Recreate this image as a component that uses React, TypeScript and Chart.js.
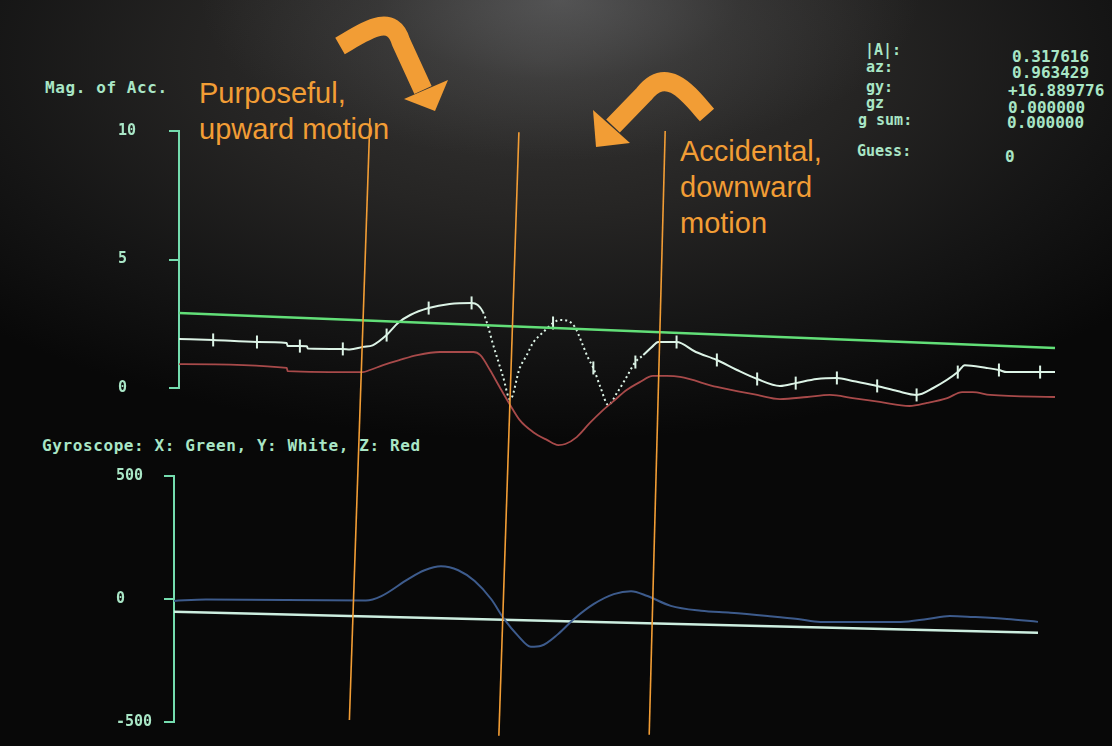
import React, { useEffect, useRef } from 'react';
import { Chart, registerables } from 'chart.js';

Chart.register(...registerables);

// ---------- data ----------
const TOP_Y_TICKS = [0, 5, 10];
const BOTTOM_Y_TICKS = [-500, 0, 500];

// Magnitude of acceleration panel (time 0..100)
const ACC_GREEN_T = [0, 100];
const ACC_GREEN_V = [2.92, 1.56];

const ACC_WHITE_T = [0, 3.9, 8.9, 12.3, 12.4, 13.8, 14.6, 14.7, 18.7, 19.5, 21, 22.1, 23.7, 25, 26.4, 28.5, 30.9, 33.4, 34.1, 34.7, 35.3, 35.8, 36.4, 37, 37.8, 38.9, 39.7, 40.4, 41.6, 42.7, 43.5, 44.4, 45.2, 46, 46.7, 47.3, 48.1, 49, 50, 50.9, 52.1, 53, 54, 54.7, 56.8, 59, 61.4, 63.7, 66, 68.6, 70.4, 72.8, 75.1, 76.9, 79.7, 82, 84.2, 86.1, 88.9, 89.7, 92.2, 93.6, 94.5, 98.3, 100];
const ACC_WHITE_V = [1.91, 1.87, 1.79, 1.75, 1.63, 1.63, 1.62, 1.54, 1.52, 1.5, 1.6, 1.66, 2.06, 2.53, 2.84, 3.11, 3.27, 3.31, 3.23, 2.96, 2.37, 1.75, 1.09, 0.43, -0.45, 0.78, 1.28, 1.75, 2.18, 2.53, 2.65, 2.61, 2.37, 1.75, 1.17, 0.78, 0.04, -0.66, -0.19, 0.31, 1.01, 1.28, 1.6, 1.79, 1.79, 1.4, 1.09, 0.7, 0.35, 0.08, 0.19, 0.35, 0.39, 0.27, 0.08, -0.12, -0.27, 0, 0.62, 0.89, 0.78, 0.7, 0.62, 0.62, 0.62];
const ACC_WHITE_TICKS = [3.9, 8.9, 13.8, 18.7, 23.7, 28.5, 33.4, 37.8, 42.7, 47.3, 52.1, 56.8, 61.4, 66, 70.4, 75.1, 79.7, 84.2, 88.9, 93.6, 98.3];
const ACC_WHITE_DOTTED = [34.7, 53];

const ACC_RED_T = [0, 12.3, 12.4, 21, 21.8, 23.3, 25.2, 27.2, 29.8, 33.6, 34.4, 35.5, 36.6, 37.8, 38.9, 40.4, 42, 43.3, 44.1, 45.4, 46.9, 48.4, 49.5, 51.1, 52.6, 54.1, 55.7, 57.2, 61.4, 66, 68.6, 71.7, 74.3, 76.9, 80, 83.4, 85.4, 87.7, 89.4, 90.6, 92.6, 100];
const ACC_RED_V = [0.93, 0.78, 0.66, 0.62, 0.7, 0.89, 1.09, 1.28, 1.4, 1.4, 1.28, 0.7, 0.04, -0.66, -1.25, -1.71, -2.02, -2.22, -2.18, -1.91, -1.36, -0.86, -0.54, -0.08, 0.23, 0.47, 0.47, 0.43, 0.04, -0.27, -0.43, -0.35, -0.27, -0.39, -0.54, -0.7, -0.58, -0.39, -0.16, -0.16, -0.27, -0.35];

// Gyroscope panel (time 0..100)
const GYRO_WHITE_T = [0, 100];
const GYRO_WHITE_V = [-52, -137];

const GYRO_BLUE_T = [0, 3.7, 22.2, 24, 27.1, 29, 30.9, 32.9, 34.8, 36.7, 38.2, 39.8, 41.3, 42.5, 44.5, 46.3, 48.6, 50.9, 52.9, 54.8, 57.5, 61, 64.4, 68.7, 72.2, 74.8, 77.9, 84.1, 87.2, 89.8, 92.5, 96.4, 100];
const GYRO_BLUE_V = [-8, -2, -6, 12, 81, 117, 133, 117, 73, 0, -81, -149, -194, -190, -141, -81, -20, 20, 32, 12, -28, -48, -56, -69, -81, -93, -93, -93, -81, -69, -73, -81, -93];

// Annotated events (top end in the upper panel, bottom end in the lower panel)
const EVENT_T_TOP = [21.8, 38.8, 55.5];
const EVENT_V_TOP = [10.5, 9.95, 10];
const EVENT_T_BOTTOM = [20.3, 37.6, 55.0];
const EVENT_V_BOTTOM = [-492, -556, -552];

const READOUT_LABELS = ['|A|:', 'az:', 'gy:', 'gz', 'g sum:'];
const READOUT_VALUES = ['0.317616', '0.963429', '+16.889776', '0.000000', '0.000000'];
const GUESS_LABEL = 'Guess:';
const GUESS_VALUE = '0';

// ---------- styles ----------
const MINT = '#74dcae';
const SCREEN_TEXT = '#a9e6c6';
const GREEN = '#62df78';
const WHITE = '#dcf3e6';
const RED = '#a84a4a';
const BLUE = '#3d5b8c';
const GYRO_WHITE = '#cdeee0';
const ORANGE = '#f29d35';
const MONO = '"DejaVu Sans Mono", monospace';

const pts = (t: number[], v: number[]) => t.map((x, i) => ({ x, y: v[i] }));

const yAxis = (min: number, max: number, ticks: number[], width: number) => ({
  type: 'linear' as const,
  min,
  max,
  afterBuildTicks: (s: any) => {
    s.ticks = ticks.map((value) => ({ value }));
  },
  afterFit: (s: any) => {
    s.width = width;
  },
  grid: { drawOnChartArea: false, drawTicks: true, tickLength: 10, color: MINT, lineWidth: 2 },
  border: { display: true, color: MINT, width: 2 },
  ticks: {
    crossAlign: 'far' as const,
    color: SCREEN_TEXT,
    padding: 4,
    font: { family: MONO, size: 15, weight: 'bold' as const },
  },
});

const annotationPlugin = (topChart: Chart) => ({
  id: 'annotations',
  afterDatasetsDraw(chart: any) {
    const ctx = chart.ctx as CanvasRenderingContext2D;
    ctx.save();
    ctx.strokeStyle = ORANGE;
    ctx.lineWidth = 1.6;
    EVENT_T_TOP.forEach((t, i) => {
      const x1 = topChart.scales.x.getPixelForValue(t);
      const y1 = topChart.scales.y.getPixelForValue(EVENT_V_TOP[i]);
      const x2 = chart.scales.x.getPixelForValue(EVENT_T_BOTTOM[i]);
      const y2 = chart.scales.y.getPixelForValue(EVENT_V_BOTTOM[i]);
      ctx.beginPath();
      ctx.moveTo(x1, y1);
      ctx.lineTo(x2, y2);
      ctx.stroke();
    });
    // curved call-out arrows
    ctx.lineWidth = 19;
    ctx.lineCap = 'butt';
    ctx.lineJoin = 'round';
    ctx.fillStyle = ORANGE;
    ctx.beginPath();
    ctx.moveTo(340, 46);
    ctx.bezierCurveTo(366, 31, 392, 12, 401, 42);
    ctx.lineTo(423, 90);
    ctx.stroke();
    ctx.beginPath();
    ctx.moveTo(404, 99);
    ctx.lineTo(448, 80);
    ctx.lineTo(435, 111);
    ctx.closePath();
    ctx.fill();

    ctx.beginPath();
    ctx.moveTo(707, 115);
    ctx.bezierCurveTo(690, 96, 668, 64, 644, 94);
    ctx.lineTo(613, 126);
    ctx.stroke();
    ctx.beginPath();
    ctx.moveTo(593, 110);
    ctx.lineTo(630, 143);
    ctx.lineTo(596, 147);
    ctx.closePath();
    ctx.fill();
    ctx.restore();
  },
});

const screenText: React.CSSProperties = {
  position: 'absolute',
  fontFamily: MONO,
  fontWeight: 'bold',
  color: SCREEN_TEXT,
  whiteSpace: 'pre',
  lineHeight: '20px',
};

const orangeText: React.CSSProperties = {
  position: 'absolute',
  fontFamily: '"Liberation Sans", Arial, sans-serif',
  fontSize: 29,
  lineHeight: '36px',
  color: ORANGE,
  whiteSpace: 'pre',
};

const LABEL_POS = [
  [865, 50],
  [866, 67],
  [866, 87],
  [866, 103],
  [858, 120],
];
const VALUE_POS = [
  [1012, 57],
  [1012, 73],
  [1008, 91],
  [1008, 108],
  [1007, 123],
];

export default function App() {
  const topRef = useRef<HTMLCanvasElement>(null);
  const botRef = useRef<HTMLCanvasElement>(null);

  useEffect(() => {
    const top = new Chart(topRef.current!, {
      type: 'line',
      data: {
        datasets: [
          {
            data: pts(ACC_GREEN_T, ACC_GREEN_V),
            borderColor: GREEN,
            borderWidth: 2.5,
            pointRadius: 0,
            clip: false as any,
          },
          {
            data: pts(ACC_RED_T, ACC_RED_V),
            borderColor: RED,
            borderWidth: 1.8,
            pointRadius: 0,
            cubicInterpolationMode: 'monotone',
            clip: false as any,
          },
          {
            data: pts(ACC_WHITE_T, ACC_WHITE_V),
            borderColor: WHITE,
            borderWidth: 2,
            cubicInterpolationMode: 'monotone',
            pointStyle: 'line',
            rotation: 90,
            pointBorderColor: WHITE,
            pointBorderWidth: 2,
            pointRadius: (c: any) => (ACC_WHITE_TICKS.includes(ACC_WHITE_T[c.dataIndex]) ? 6.5 : 0),
            segment: {
              borderDash: (c: any) =>
                c.p0.parsed.x >= ACC_WHITE_DOTTED[0] && c.p0.parsed.x < ACC_WHITE_DOTTED[1] ? [2, 3] : undefined,
            },
            clip: false as any,
          } as any,
        ],
      },
      options: {
        responsive: false,
        animation: false,
        layout: { padding: { left: 118, top: 131, right: 57, bottom: 358 } },
        plugins: { legend: { display: false }, tooltip: { enabled: false } },
        scales: {
          x: { type: 'linear', min: 0, max: 100, display: false },
          y: yAxis(0, 10, TOP_Y_TICKS, 61) as any,
        },
      },
    });

    const bot = new Chart(botRef.current!, {
      type: 'line',
      data: {
        datasets: [
          {
            data: pts(GYRO_BLUE_T, GYRO_BLUE_V),
            borderColor: BLUE,
            borderWidth: 2,
            pointRadius: 0,
            cubicInterpolationMode: 'monotone',
            clip: false as any,
          },
          {
            data: pts(GYRO_WHITE_T, GYRO_WHITE_V),
            borderColor: GYRO_WHITE,
            borderWidth: 2.5,
            pointRadius: 0,
            clip: false as any,
          },
        ],
      },
      options: {
        responsive: false,
        animation: false,
        layout: { padding: { left: 116, top: 476, right: 74, bottom: 24 } },
        plugins: { legend: { display: false }, tooltip: { enabled: false } },
        scales: {
          x: { type: 'linear', min: 0, max: 100, display: false },
          y: yAxis(-500, 500, BOTTOM_Y_TICKS, 58) as any,
        },
      },
      plugins: [annotationPlugin(top)],
    });

    return () => {
      bot.destroy();
      top.destroy();
    };
  }, []);

  return (
    <div
      style={{
        position: 'fixed',
        left: 0,
        top: 0,
        width: 1112,
        height: 746,
        overflow: 'hidden',
        background:
          'radial-gradient(ellipse 360px 160px at 560px 0px, rgba(150,152,156,0.35) 0%, rgba(110,111,113,0.18) 50%, rgba(70,70,70,0) 100%),' +
          'radial-gradient(ellipse 780px 380px at 540px 60px, #363534 0%, #262524 40%, #141414 75%, #080808 100%),' +
          '#070707',
      }}
    >
      <div style={{ ...screenText, left: 45, top: 78, fontSize: 16, letterSpacing: 0.6 }}>Mag. of Acc.</div>
      <div style={{ ...screenText, left: 42, top: 436, fontSize: 16, letterSpacing: 0.6 }}>
        Gyroscope: X: Green, Y: White, Z: Red
      </div>
      {READOUT_LABELS.map((s, i) => (
        <div key={'l' + i} style={{ ...screenText, left: LABEL_POS[i][0], top: LABEL_POS[i][1] - 10, fontSize: 15 }}>
          {s}
        </div>
      ))}
      {READOUT_VALUES.map((s, i) => (
        <div key={'v' + i} style={{ ...screenText, left: VALUE_POS[i][0], top: VALUE_POS[i][1] - 10, fontSize: 16 }}>
          {s}
        </div>
      ))}
      <div style={{ ...screenText, left: 857, top: 141, fontSize: 15 }}>{GUESS_LABEL}</div>
      <div style={{ ...screenText, left: 1005, top: 147, fontSize: 16 }}>{GUESS_VALUE}</div>

      <div style={{ ...orangeText, left: 199, top: 75 }}>{'Purposeful,\nupward motion'}</div>
      <div style={{ ...orangeText, left: 680, top: 133 }}>{'Accidental,\ndownward\nmotion'}</div>

      <canvas ref={topRef} width={1112} height={746} style={{ position: 'absolute', left: 0, top: 0 }} />
      <canvas ref={botRef} width={1112} height={746} style={{ position: 'absolute', left: 0, top: 0 }} />
    </div>
  );
}
